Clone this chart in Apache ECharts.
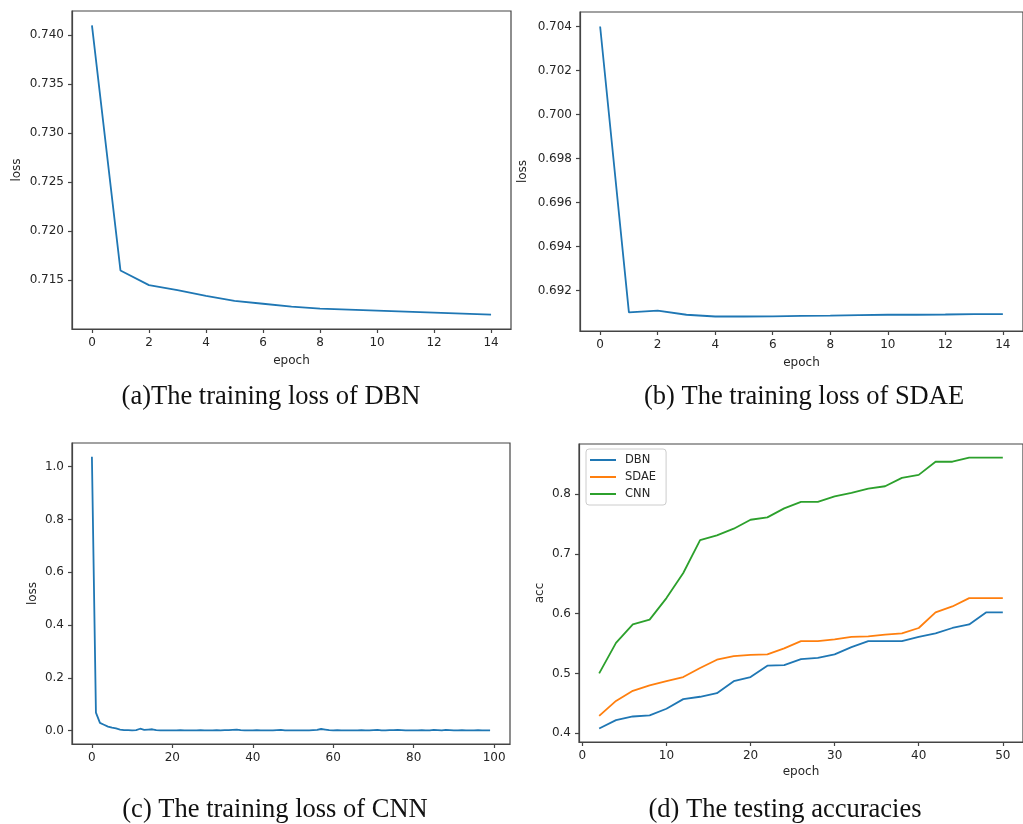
<!DOCTYPE html>
<html>
<head>
<meta charset="utf-8">
<script src="https://cdn.jsdelivr.net/npm/echarts@6/dist/echarts.min.js"></script>
<style>
html,body{margin:0;padding:0;background:#fff;}
#chart{width:1023px;height:824px;}
</style>
</head>
<body>
<div id="chart"></div>
<script>
// ---------- DATA ----------
const epochsA = [0,1,2,3,4,5,6,7,8,9,10,11,12,13,14];
const lossDBN = [0.7410,0.7160,0.7145,0.7140,0.7134,0.7129,0.7126,0.7123,0.7121,0.7120,0.7119,0.7118,0.7117,0.7116,0.7115];

const epochsB = [0,1,2,3,4,5,6,7,8,9,10,11,12,13,14];
const lossSDAE = [0.70400,0.69101,0.69109,0.69090,0.69082,0.69082,0.69083,0.69085,0.69086,0.69088,0.69090,0.69090,0.69091,0.69093,0.69093];

const lossCNN = [
  1.038,0.068,0.029,0.022,0.015,0.011,0.008,0.004,0.002,0.002,
  0.001,0.002,0.007,0.003,0.004,0.005,0.002,0.001,0.001,0.001,
  0.001,0.001,0.002,0.001,0.001,0.001,0.001,0.002,0.001,0.001,
  0.001,0.002,0.001,0.002,0.002,0.003,0.004,0.002,0.001,0.001,
  0.001,0.002,0.001,0.001,0.001,0.001,0.002,0.003,0.001,0.001,
  0.001,0.001,0.001,0.001,0.001,0.002,0.003,0.006,0.004,0.002,
  0.001,0.002,0.001,0.001,0.001,0.001,0.001,0.002,0.001,0.001,
  0.002,0.003,0.001,0.001,0.002,0.002,0.003,0.002,0.001,0.001,
  0.001,0.001,0.002,0.001,0.001,0.003,0.002,0.001,0.003,0.002,
  0.001,0.001,0.002,0.001,0.001,0.001,0.002,0.001,0.001,0.001
];

const epochsD = [2,4,6,8,10,12,14,16,18,20,22,24,26,28,30,32,34,36,38,40,42,44,46,48,50];
const accDBN  = [0.408,0.422,0.428,0.430,0.441,0.457,0.461,0.467,0.487,0.494,0.513,0.514,0.524,0.526,0.532,0.544,0.554,0.554,0.554,0.561,0.567,0.576,0.582,0.602,0.602];
const accSDAE = [0.429,0.454,0.471,0.480,0.487,0.494,0.509,0.523,0.529,0.531,0.532,0.542,0.554,0.554,0.557,0.561,0.562,0.565,0.567,0.576,0.602,0.612,0.626,0.626,0.626];
const accCNN  = [0.500,0.551,0.582,0.590,0.626,0.668,0.723,0.731,0.742,0.757,0.761,0.776,0.787,0.787,0.796,0.802,0.809,0.813,0.827,0.832,0.854,0.854,0.861,0.861,0.861];

const ticksAx = [0,2,4,6,8,10,12,14];
const ticksAy = [0.715,0.720,0.725,0.730,0.735,0.740];
const ticksBx = [0,2,4,6,8,10,12,14];
const ticksBy = [0.692,0.694,0.696,0.698,0.700,0.702,0.704];
const ticksCx = [0,20,40,60,80,100];
const ticksCy = [0.0,0.2,0.4,0.6,0.8,1.0];
const ticksDx = [0,10,20,30,40,50];
const ticksDy = [0.4,0.5,0.6,0.7,0.8];

const legendNames = ['DBN','SDAE','CNN'];
const captions = ['(a)The training loss of DBN','(b) The training loss of SDAE','(c) The training loss of CNN','(d) The testing accuracies'];

// ---------- HELPERS ----------
const BLUE='#1f77b4', ORANGE='#ff7f0e', GREEN='#2ca02c';
const TXT='#262626';
function ext(arrs){
  let lo=Infinity, hi=-Infinity;
  arrs.forEach(a=>a.forEach(v=>{lo=Math.min(lo,v);hi=Math.max(hi,v);}));
  const m=(hi-lo)*0.05; return [lo-m, hi+m];
}
const cnnEpochs = lossCNN.map((_,i)=>i);
function pairs(xs, ys){ return ys.map((y,i)=>[xs[i], y]); }

function xAxis(gi, e, ticks, name, gap){
  return {
    type:'value', gridIndex:gi, min:e[0], max:e[1],
    name:name||'', nameLocation:'middle', nameGap:gap||30,
    nameTextStyle:{color:TXT, fontSize:12, fontFamily:'DejaVu Sans'},
    axisLine:{show:true, onZero:false, lineStyle:{color:'#444', width:1.2}},
    axisTick:{show:true, length:4, inside:false, customValues:ticks, lineStyle:{color:'#444', width:1.2}},
    axisLabel:{customValues:ticks, color:TXT, fontSize:12, fontFamily:'DejaVu Sans', margin:8, formatter:v=>String(Math.round(v))},
    splitLine:{show:false}
  };
}
function yAxis(gi, e, ticks, dec, name, gap){
  return {
    type:'value', gridIndex:gi, min:e[0], max:e[1],
    name:name, nameLocation:'middle', nameGap:gap, nameRotate:90,
    nameTextStyle:{color:TXT, fontSize:12, fontFamily:'DejaVu Sans'},
    axisLine:{show:true, onZero:false, lineStyle:{color:'#444', width:1.2}},
    axisTick:{show:true, length:4, inside:false, customValues:ticks, lineStyle:{color:'#444', width:1.2}},
    axisLabel:{customValues:ticks, color:TXT, fontSize:12, fontFamily:'DejaVu Sans', margin:8, formatter:v=>v.toFixed(dec)},
    splitLine:{show:false}
  };
}
function line(name, xi, data, color){
  return {type:'line', name:name, xAxisIndex:xi, yAxisIndex:xi, data:data, showSymbol:false, symbol:'none',
    lineStyle:{color:color, width:1.8}, itemStyle:{color:color}, animation:false, silent:true};
}
const gridStyle = {show:true, borderColor:'#444', borderWidth:1.2, backgroundColor:'transparent', containLabel:false};

const eAx=ext([epochsA]), eAy=ext([lossDBN]);
const eBx=ext([epochsB]), eBy=ext([lossSDAE]);
const eCx=ext([cnnEpochs]), eCy=ext([lossCNN]);
const eDx=ext([epochsD]), eDy=ext([accDBN,accSDAE,accCNN]);

const capFont = '26.5px "Liberation Serif"';
function caption(text, cx, cy){
  return {type:'text', x:cx, y:cy, style:{text:text, font:capFont, fill:'#111', textAlign:'center', textVerticalAlign:'middle'}};
}

const option = {
  backgroundColor:'#fff',
  animation:false,
  grid:[
    Object.assign({left:72, top:11, width:439, height:318}, gridStyle),
    Object.assign({left:580, top:12, width:454, height:319}, gridStyle),
    Object.assign({left:72, top:443, width:438, height:301}, gridStyle),
    Object.assign({left:579, top:444, width:454, height:298}, gridStyle)
  ],
  xAxis:[
    xAxis(0,eAx,ticksAx,'epoch',26),
    xAxis(1,eBx,ticksBx,'epoch',25.5),
    xAxis(2,eCx,ticksCx,'',30),
    xAxis(3,eDx,ticksDx,'epoch',24)
  ],
  yAxis:[
    yAxis(0,eAy,ticksAy,3,'loss',49),
    yAxis(1,eBy,ticksBy,3,'loss',51),
    yAxis(2,eCy,ticksCy,1,'loss',33),
    yAxis(3,eDy,ticksDy,1,'acc',33)
  ],
  legend:{
    data:legendNames, orient:'vertical', left:586, top:449,
    icon:'rect', itemWidth:26, itemHeight:2, itemGap:5,
    padding:[5,10,5,4], backgroundColor:'#fff', borderColor:'#ccc', borderWidth:1, borderRadius:3,
    textStyle:{color:TXT, fontSize:11.5, fontFamily:'DejaVu Sans', padding:[0,0,0,4]},
    selectedMode:false
  },
  series:[
    line('lossDBN',0,pairs(epochsA,lossDBN),BLUE),
    line('lossSDAE',1,pairs(epochsB,lossSDAE),BLUE),
    line('lossCNN',2,pairs(cnnEpochs,lossCNN),BLUE),
    line(legendNames[0],3,pairs(epochsD,accDBN),BLUE),
    line(legendNames[1],3,pairs(epochsD,accSDAE),ORANGE),
    line(legendNames[2],3,pairs(epochsD,accCNN),GREEN)
  ],
  graphic:[
    caption(captions[0], 271, 397),
    caption(captions[1], 804, 397),
    caption(captions[2], 275, 810),
    caption(captions[3], 785, 810)
  ]
};
const chart = echarts.init(document.getElementById('chart'), null, {renderer:'canvas'});
chart.setOption(option);
</script>
</body>
</html>
